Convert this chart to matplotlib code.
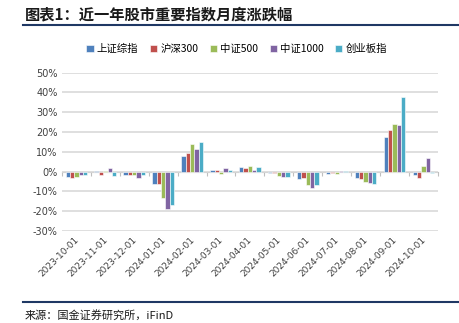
import matplotlib
matplotlib.use("Agg")
import matplotlib.pyplot as plt
import matplotlib.transforms as mtransforms
import numpy as np

plt.rcParams["font.family"] = ["Noto Sans CJK SC", "DejaVu Sans"]

months = ["2023-10-01", "2023-11-01", "2023-12-01", "2024-01-01", "2024-02-01",
          "2024-03-01", "2024-04-01", "2024-05-01", "2024-06-01", "2024-07-01",
          "2024-08-01", "2024-09-01", "2024-10-01"]
series_names = ["上证综指", "沪深300", "中证500", "中证1000", "创业板指"]

# monthly change, %
sse = [-2.7, 0.4, -1.5, -6.3, 8.1, 0.9, 2.1, -0.6, -3.9, -1.0, -3.3, 17.4, -1.7]
csi300 = [-3.0, -1.9, -1.5, -6.3, 9.4, 0.6, 1.9, -0.7, -3.3, -0.6, -3.5, 20.8, -3.2]
csi500 = [-2.9, 0.2, -1.8, -13.5, 13.8, -1.1, 3.0, -2.4, -6.7, -1.1, -5.3, 24.0, 2.6]
csi1000 = [-1.6, 1.8, -3.0, -18.9, 11.5, 1.8, 1.0, -2.8, -8.5, 0.1, -5.6, 23.4, 7.1]
chinext = [-1.7, -2.2, -1.7, -16.8, 14.8, 0.6, 2.2, -2.8, -6.7, 0.1, -6.5, 37.6, -0.5]
all_series = [sse, csi300, csi500, csi1000, chinext]

colors = ["#4F81BD", "#C0504D", "#9BBB59", "#8064A2", "#4BACC6"]
NAVY = "#1F3864"
GRID = "#D9D9D9"
TXT = "#404040"

fig = plt.figure(figsize=(4.59, 3.23), dpi=100)

# header / footer
fig.text(0.054, 0.955, "图表1：近一年股市重要指数月度涨跌幅", fontsize=11,
         fontweight="bold", color="#1a1a1a", ha="left", va="center")
fig.add_artist(plt.Line2D([0.05, 1.0], [0.924, 0.924], color=NAVY, lw=1.5))
fig.add_artist(plt.Line2D([0.05, 1.0], [0.066, 0.066], color=NAVY, lw=1.5))
fig.text(0.054, 0.024, "来源：国金证券研究所，iFinD", fontsize=8,
         color="#1a1a1a", ha="left", va="center")

ax = fig.add_axes([0.135, 0.285, 0.819, 0.49])
x = np.arange(len(months))
w = 0.15
for i, (vals, name, c) in enumerate(zip(all_series, series_names, colors)):
    ax.bar(x + (i - 2) * w, vals, w, color=c, edgecolor="white",
           linewidth=0.4, label=name, zorder=3)

ax.set_xlim(-0.5, len(months) - 0.5)
ax.set_ylim(-30, 50)
ax.set_yticks(np.arange(-30, 51, 10))
ax.set_yticklabels([f"{v}%" for v in range(-30, 51, 10)], fontsize=7,
                   color=TXT, family="DejaVu Sans")
ax.yaxis.grid(True, color=GRID, lw=1.2, zorder=0)
for s in ax.spines.values():
    s.set_visible(False)
ax.tick_params(axis="both", length=0, pad=3)

ax.set_xticks(x)
ax.set_xticklabels(months, rotation=45, ha="right", fontsize=6.5,
                   color=TXT, family="DejaVu Sans")
shift = mtransforms.ScaledTranslation(4 / 100, 0, fig.dpi_scale_trans)
for lbl in ax.get_xticklabels():
    lbl.set_transform(lbl.get_transform() + shift)

# category axis through zero with boundary ticks
zero_ax = ax.secondary_xaxis(30 / 80)
zero_ax.set_xticks(np.arange(-0.5, len(months), 1.0))
zero_ax.set_xticklabels([])
zero_ax.tick_params(length=3, width=0.8, color="#BFBFBF", direction="out")
zero_ax.spines["bottom"].set_color("#BFBFBF")
zero_ax.spines["bottom"].set_linewidth(0.8)

ax.legend(loc="center", bbox_to_anchor=(0.465, 1.15), ncol=5,
          frameon=False, fontsize=7.5, handlelength=0.7, handleheight=0.7,
          handletextpad=0.3, columnspacing=1.1, borderaxespad=0)

fig.savefig("out.png", dpi=100)
